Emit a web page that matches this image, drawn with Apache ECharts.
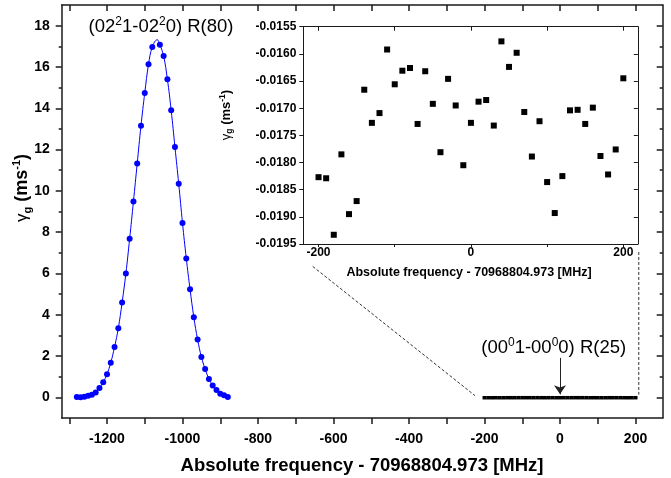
<!DOCTYPE html>
<html><head><meta charset="utf-8">
<script src="https://cdn.jsdelivr.net/npm/echarts@6/dist/echarts.min.js"></script>
<style>html,body{margin:0;padding:0;background:#fff}#c{width:671px;height:478px}</style>
</head><body><div id="c"></div>
<script>
// ---- data ----
const peakFreq = [-1280,-1270,-1260,-1250,-1240,-1230,-1220,-1210,-1200,-1190,-1180,-1170,-1160,-1150,-1140,-1130,-1120,-1110,-1100,-1090,-1080,
                  -1060,-1050,-1040,-1030,-1020,-1010,-1000,-990,-980,-970,-960,-950,-940,-930,-920,-910,-900,-890,-880];
const peakGamma = [0.02,0.01,0.03,0.08,0.13,0.24,0.45,0.73,1.12,1.68,2.44,3.35,4.59,6.0,7.68,9.48,11.32,13.15,14.74,16.13,16.97,
                   17.08,16.53,15.40,13.90,12.12,10.34,8.44,6.73,5.23,3.88,2.80,1.96,1.37,0.89,0.57,0.35,0.18,0.10,0.02];
// top of the fitted (blue) curve
const fitTopFreq = -1067;
const fitTopGamma = 17.32;

const bandFreq = [-200,-190,-180,-170,-160,-150,-140,-130,-120,-110,-100,-90,-80,-70,-60,-50,-40,-30,-20,-10,
                  0,10,20,30,40,50,60,70,80,90,100,110,120,130,140,150,160,170,180,190,200];
const bandGamma = [-0.01827,-0.01829,-0.01933,-0.01785,-0.01895,-0.01871,-0.01666,-0.01727,-0.01709,-0.01592,
                   -0.01656,-0.01631,-0.01626,-0.01729,-0.01632,-0.01692,-0.01781,-0.01646,-0.01695,-0.01805,
                   -0.01727,-0.01688,-0.01685,-0.01732,-0.01577,-0.01624,-0.01598,-0.01707,-0.01789,-0.01724,
                   -0.01836,-0.01893,-0.01825,-0.01704,-0.01703,-0.01729,-0.01699,-0.01788,-0.01822,-0.01776,-0.01645];

// tick labels
const mainXLabels = [-1200,-1000,-800,-600,-400,-200,0,200];
const mainXTickMarks = [-1300,-1200,-1100,-1000,-900,-800,-700,-600,-500,-400,-300,-200,-100,0,100,200];
const mainYLabels = [0,2,4,6,8,10,12,14,16,18];
const mainYMinor = [1,3,5,7,9,11,13,15,17];
const insetXLabels = [-200,0,200];
const insetXTickMarks = [-200,-100,0,100,200];
const insetYLabels = ['-0.0195','-0.0190','-0.0185','-0.0180','-0.0175','-0.0170','-0.0165','-0.0160','-0.0155'];

// zoom guide lines and arrow (annotation, in main-axis data units)
const guideLeft = [[-655, 6.34], [-225, 0.08]];
const guideRight = [[208.6, 7.04], [208.6, 0.13]];
const arrowFrom = [0, 1.91], arrowTo = [0, 0.15];

// ---- chart ----
const FONT = "'Liberation Sans', Arial, Helvetica, sans-serif";
const AX = '#1a1a1a';
const chart = echarts.init(document.getElementById('c'), null, {renderer: 'canvas'});

const peakData = peakFreq.map((f, i) => [f, peakGamma[i]]);
const fitData = peakData.concat([[fitTopFreq, fitTopGamma]]).sort((a, b) => a[0] - b[0]);
const bandData = bandFreq.map((f, i) => [f, bandGamma[i]]);
const insetYVals = insetYLabels.map(Number);

function ax(o) {
  return Object.assign({
    type: 'value', splitLine: {show: false},
    axisLine: {show: true, onZero: false, lineStyle: {color: AX, width: 1.5}},
    axisTick: {show: true, lineStyle: {color: AX, width: 1.5}},
    axisLabel: {show: false}
  }, o);
}
const lbl = (size, extra) => Object.assign({show: true, color: '#000', fontWeight: 'bold', fontSize: size, fontFamily: FONT}, extra);
const noLine = {show: false, onZero: false};

const option = {
  animation: false,
  backgroundColor: '#fff',
  grid: [
    {left: 61.7, top: 5, width: 601, height: 413},
    {left: 303.3, top: 26.7, width: 334.5, height: 217.3}
  ],
  xAxis: [
    ax({gridIndex: 0, position: 'bottom', min: -1320, max: 272,
        axisTick: {show: true, length: 6, customValues: mainXTickMarks, lineStyle: {color: AX, width: 1.5}},
        axisLabel: lbl(14, {margin: 14, customValues: mainXLabels, formatter: v => String(v)})}),
    ax({gridIndex: 0, position: 'top', min: -1320, max: 272,
        axisTick: {show: true, inside: true, length: 6, customValues: mainXTickMarks, lineStyle: {color: AX, width: 1.5}}}),
    ax({gridIndex: 1, position: 'bottom', min: -220, max: 219,
        axisLine: {show: true, onZero: false, lineStyle: {color: AX, width: 1}},
        axisTick: {show: true, length: 3, customValues: insetXTickMarks, lineStyle: {color: AX, width: 1}},
        axisLabel: lbl(12, {margin: 3, customValues: insetXLabels, formatter: v => String(v)})}),
    ax({gridIndex: 1, position: 'top', min: -220, max: 219,
        axisLine: {show: true, onZero: false, lineStyle: {color: AX, width: 1}},
        axisTick: {show: true, inside: true, length: 4, customValues: insetXTickMarks, lineStyle: {color: AX, width: 1}}})
  ],
  yAxis: [
    ax({gridIndex: 0, position: 'left', min: -1, max: 19,
        axisTick: {show: true, length: 6, customValues: mainYLabels, lineStyle: {color: AX, width: 1.5}},
        axisLabel: lbl(14, {margin: 12, customValues: mainYLabels, formatter: v => String(v)})}),
    ax({gridIndex: 0, position: 'left', min: -1, max: 19, axisLine: noLine,
        axisTick: {show: true, length: 3, customValues: mainYMinor, lineStyle: {color: AX, width: 1.5}}}),
    ax({gridIndex: 0, position: 'right', min: -1, max: 19,
        axisTick: {show: true, inside: true, length: 6, customValues: mainYLabels, lineStyle: {color: AX, width: 1.5}}}),
    ax({gridIndex: 0, position: 'right', min: -1, max: 19, axisLine: noLine,
        axisTick: {show: true, inside: true, length: 3, customValues: mainYMinor, lineStyle: {color: AX, width: 1.5}}}),
    ax({gridIndex: 1, position: 'left', min: -0.0195, max: -0.0155,
        axisLine: {show: true, onZero: false, lineStyle: {color: AX, width: 1}},
        axisTick: {show: true, length: 4, customValues: insetYVals, lineStyle: {color: AX, width: 1}},
        axisLabel: lbl(12, {margin: 7, customValues: insetYVals, formatter: v => v.toFixed(4)})}),
    ax({gridIndex: 1, position: 'right', min: -0.0195, max: -0.0155,
        axisLine: {show: true, onZero: false, lineStyle: {color: AX, width: 1}},
        axisTick: {show: true, inside: true, length: 4, customValues: insetYVals, lineStyle: {color: AX, width: 1}}})
  ],
  series: [
    {type: 'line', xAxisIndex: 0, yAxisIndex: 0, data: fitData, smooth: 0.4, showSymbol: false,
     lineStyle: {color: '#0000ff', width: 1}, z: 2, silent: true},
    {type: 'scatter', xAxisIndex: 0, yAxisIndex: 0, data: peakData, symbol: 'circle', symbolSize: 6,
     itemStyle: {color: '#0000ff', opacity: 1}, z: 3},
    {type: 'line', xAxisIndex: 0, yAxisIndex: 0, data: guideLeft, showSymbol: false, symbol: 'none',
     lineStyle: {color: '#333', width: 1, type: [3, 2]}, z: 1, silent: true},
    {type: 'line', xAxisIndex: 0, yAxisIndex: 0, data: guideRight, showSymbol: false, symbol: 'none',
     lineStyle: {color: '#333', width: 1, type: [3, 2]}, z: 1, silent: true},
    {type: 'scatter', xAxisIndex: 0, yAxisIndex: 0, data: bandData, symbol: 'rect', symbolSize: [4, 3.5],
     itemStyle: {color: '#000', opacity: 1}, z: 3,
     markLine: {silent: true, symbol: ['none', 'arrow'], symbolSize: 9, label: {show: false},
       lineStyle: {color: '#222', width: 1, type: 'solid', opacity: 1},
       data: [[{coord: arrowFrom}, {coord: arrowTo}]]}},
    {type: 'scatter', xAxisIndex: 2, yAxisIndex: 4, data: bandData, symbol: 'rect', symbolSize: 6,
     itemStyle: {color: '#000', opacity: 1}, z: 3}
  ],
  graphic: [
    {type: 'text', x: 161, y: 27, z: 10, style: {
      text: '{n|(02}{s|2}{n|1-02}{s|2}{n|0) R(80)}', align: 'center', verticalAlign: 'middle',
      rich: {n: {fontSize: 18.5, fontFamily: FONT, fill: '#000', lineHeight: 22},
             s: {fontSize: 12, fontFamily: FONT, fill: '#000', verticalAlign: 'top', lineHeight: 12}}}},
    {type: 'text', x: 553.7, y: 348, z: 10, style: {
      text: '{n|(00}{s|0}{n|1-00}{s|0}{n|0) R(25)}', align: 'center', verticalAlign: 'middle',
      rich: {n: {fontSize: 18.5, fontFamily: FONT, fill: '#000', lineHeight: 22},
             s: {fontSize: 12, fontFamily: FONT, fill: '#000', verticalAlign: 'top', lineHeight: 12}}}},
    {type: 'text', x: 362, y: 466, z: 10, style: {
      text: 'Absolute frequency - 70968804.973 [MHz]', align: 'center', verticalAlign: 'middle',
      font: "bold 18.5px 'Liberation Sans', Arial, sans-serif", fill: '#000'}},
    {type: 'text', x: 469, y: 273, z: 10, style: {
      text: 'Absolute frequency - 70968804.973 [MHz]', align: 'center', verticalAlign: 'middle',
      font: "bold 12.5px 'Liberation Sans', Arial, sans-serif", fill: '#000'}},
    {type: 'text', x: 22, y: 188, rotation: Math.PI / 2, z: 10, style: {
      text: '{g|γ}{sub|g}{b| (ms}{sup|-1}{b|)}', align: 'center', verticalAlign: 'middle',
      rich: {g: {fontSize: 17, fontFamily: FONT, fill: '#000', lineHeight: 22},
             sub: {fontSize: 11, fontFamily: FONT, fill: '#000', fontWeight: 'bold', verticalAlign: 'bottom', lineHeight: 11},
             b: {fontSize: 18, fontFamily: FONT, fill: '#000', fontWeight: 'bold', lineHeight: 22},
             sup: {fontSize: 11, fontFamily: FONT, fill: '#000', fontWeight: 'bold', verticalAlign: 'top', lineHeight: 11}}}},
    {type: 'text', x: 226, y: 115, rotation: Math.PI / 2, z: 10, style: {
      text: '{g|γ}{sub|g}{b| (ms}{sup|-1}{b|)}', align: 'center', verticalAlign: 'middle',
      rich: {g: {fontSize: 13, fontFamily: FONT, fill: '#000', lineHeight: 16},
             sub: {fontSize: 8.5, fontFamily: FONT, fill: '#000', fontWeight: 'bold', verticalAlign: 'bottom', lineHeight: 8.5},
             b: {fontSize: 13, fontFamily: FONT, fill: '#000', fontWeight: 'bold', lineHeight: 16},
             sup: {fontSize: 8.5, fontFamily: FONT, fill: '#000', fontWeight: 'bold', verticalAlign: 'top', lineHeight: 8.5}}}}
  ]
};
chart.setOption(option);
</script>
</body></html>
